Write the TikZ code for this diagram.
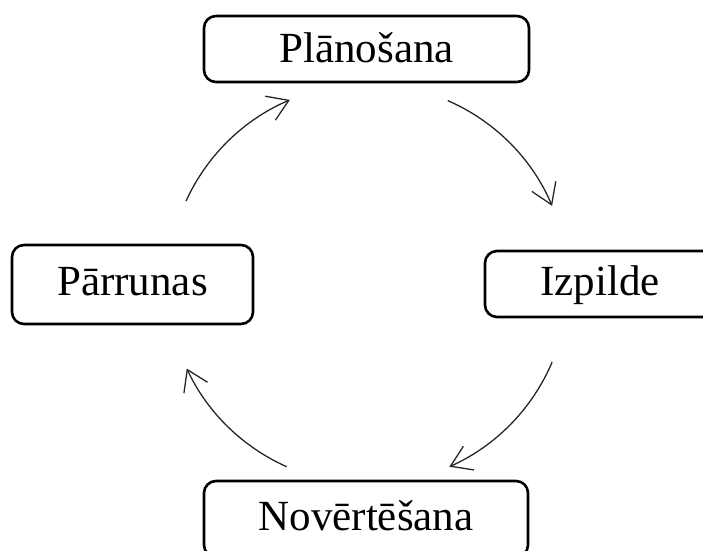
\documentclass[tikz,border=0pt]{standalone}
\usepackage{fontspec}
\setmainfont{Liberation Serif}
\usetikzlibrary{arrows.meta}
\begin{document}
\begin{tikzpicture}[x=1pt,y=1pt,
  stage/.style={draw=black, line width=2.6pt, rounded corners=12pt, fill=white,
    inner sep=0pt, font=\fontsize{43}{50}\selectfont, text height=30pt, text depth=2pt, anchor=center},
  cyc/.style={draw=black!85, line width=1.3pt, -{Straight Barb[length=20pt,width=26pt]}}
]
\useasboundingbox (0,0) rectangle (703,550);
\node[stage, minimum width=325pt, minimum height=66pt] (plan) at (366.5,501) {Plānošana};
\node[stage, minimum width=241pt, minimum height=79pt, text depth=8pt] (parr) at (132.5,265.5) {Pārrunas};
\node[stage, minimum width=230pt, minimum height=66pt, text depth=8pt] (izp) at (600,266) {Izpilde};
\node[stage, minimum width=324pt, minimum height=76pt, text depth=8pt] (nov) at (366,31) {Novērtēšana};
\coordinate (c) at (368,266);
\draw[cyc] ([shift={(155.5:200pt)}]c) arc[start angle=155.5, end angle=113, radius=200pt];
\draw[cyc] ([shift={(66.5:200pt)}]c) arc[start angle=66.5, end angle=23, radius=200pt];
\draw[cyc] ([shift={(-23:200pt)}]c) arc[start angle=-23, end angle=-66, radius=200pt];
\draw[cyc] ([shift={(-114:200pt)}]c) arc[start angle=-114, end angle=-155, radius=200pt];
\end{tikzpicture}
\end{document}
